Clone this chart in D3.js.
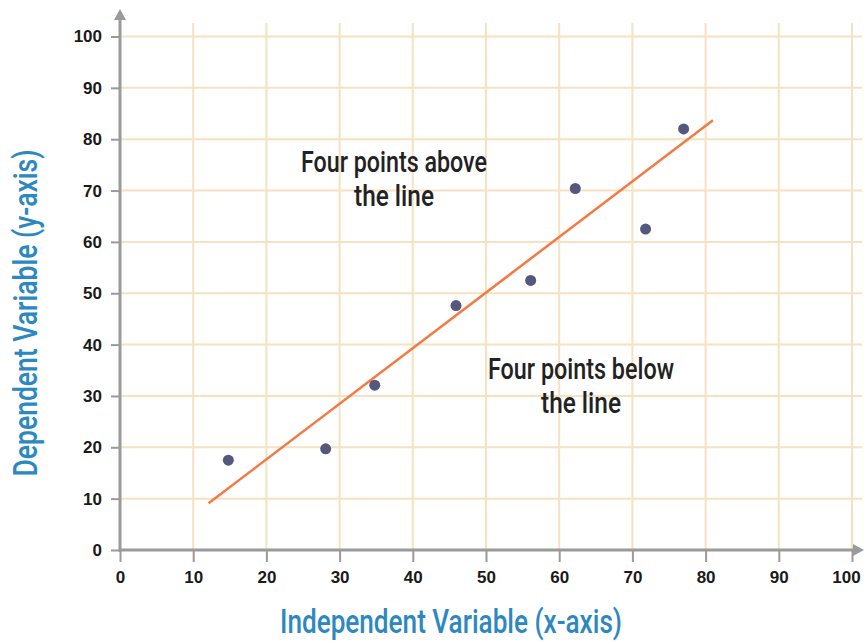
<!DOCTYPE html>
<html><head><meta charset="utf-8">
<script src="https://cdn.jsdelivr.net/npm/d3@7/dist/d3.min.js"></script>
<style>body{margin:0;background:#fff}svg{display:block}</style>
</head><body>
<svg id="c" width="867" height="644"></svg>
<script>
const xTicks = [0,10,20,30,40,50,60,70,80,90,100];
const yTicks = [0,10,20,30,40,50,60,70,80,90,100];
const pointsX = [14.8, 28.1, 34.8, 45.9, 56.1, 62.2, 71.8, 77.0];
const pointsY = [17.5, 19.7, 32.1, 47.6, 52.5, 70.4, 62.5, 82.0];
const fitX = [12.1, 81.0];
const fitY = [9.1, 83.7];
const noteAbove = ["Four points above", "the line"];
const noteBelow = ["Four points below", "the line"];
const xTitle = "Independent Variable (x-axis)";
const yTitle = "Dependent Variable (y-axis)";

const svg = d3.select("#c");
const x = d3.scaleLinear().domain([0,100]).range([120,852]);
const y = d3.scaleLinear().domain([0,100]).range([550,36.5]);
const grid = "#f6e2c0";
const axisCol = "#9a9a9a";
const condensed = "'Roboto','Liberation Sans Narrow',sans-serif";

// grid
svg.append("g").selectAll("line").data(xTicks.slice(1)).join("line")
  .attr("x1", d=>x(d)).attr("x2", d=>x(d)).attr("y1", 23).attr("y2", 550)
  .attr("stroke", grid).attr("stroke-width", 2);
svg.append("g").selectAll("line").data(yTicks.slice(1)).join("line")
  .attr("x1", 120).attr("x2", 862).attr("y1", d=>y(d)).attr("y2", d=>y(d))
  .attr("stroke", grid).attr("stroke-width", 2);

// axes
const xAxis = d3.axisBottom(x).tickValues(xTicks).tickSize(12).tickPadding(9);
const gx = svg.append("g").attr("transform","translate(0,550)").call(xAxis);
gx.select(".domain").remove();
gx.selectAll(".tick line").attr("stroke", axisCol).attr("stroke-width", 2);
gx.selectAll(".tick text").attr("font-family","'Liberation Sans', Arial, sans-serif")
  .attr("font-weight","bold").attr("font-size",17).attr("fill","#1a1a1a");
gx.selectAll(".tick text").filter(d=>d===100).attr("dx",-6);

const yAxis = d3.axisLeft(y).tickValues(yTicks).tickSize(9).tickPadding(9);
const gy = svg.append("g").attr("transform","translate(120,0)").call(yAxis);
gy.select(".domain").remove();
gy.selectAll(".tick line").attr("stroke", axisCol).attr("stroke-width", 2);
gy.selectAll(".tick text").attr("font-family","'Liberation Sans', Arial, sans-serif")
  .attr("font-weight","bold").attr("font-size",17).attr("fill","#1a1a1a");

// axis lines with arrows
svg.append("line").attr("x1",120).attr("x2",856).attr("y1",550).attr("y2",550)
  .attr("stroke",axisCol).attr("stroke-width",3);
svg.append("line").attr("x1",120).attr("x2",120).attr("y1",552).attr("y2",16)
  .attr("stroke",axisCol).attr("stroke-width",3);
svg.append("path").attr("d","M864,550 L853,544 L853,556 Z").attr("fill",axisCol);
svg.append("path").attr("d","M120,9 L114,20 L126,20 Z").attr("fill",axisCol);

// fit line
svg.append("line").attr("x1",x(fitX[0])).attr("y1",y(fitY[0]))
  .attr("x2",x(fitX[1])).attr("y2",y(fitY[1]))
  .attr("stroke","#f47a45").attr("stroke-width",2.5);

// points
svg.append("g").selectAll("circle").data(pointsX.map((v,i)=>[v,pointsY[i]])).join("circle")
  .attr("cx", d=>x(d[0])).attr("cy", d=>y(d[1])).attr("r",5.5).attr("fill","#55577e");

// notes
function note(lines, cx, y0, widths){
  lines.forEach((t,i)=>{
    svg.append("text").attr("x",cx).attr("y",y0+i*34).attr("text-anchor","middle")
      .attr("font-family",condensed).attr("font-weight",500).attr("font-size",30).attr("fill","#222")
      .attr("textLength",widths[i]).attr("lengthAdjust","spacingAndGlyphs").text(t);
  });
}
note(noteAbove, 394, 172, [186, 80]);
note(noteBelow, 581, 379, [186, 80]);

// titles
svg.append("text").attr("x",451).attr("y",633).attr("text-anchor","middle")
  .attr("font-family",condensed).attr("font-weight",500).attr("font-size",34).attr("fill","#2b88c1")
  .attr("textLength",342).attr("lengthAdjust","spacingAndGlyphs").text(xTitle);
svg.append("text").attr("transform","translate(37,313) rotate(-90)").attr("text-anchor","middle")
  .attr("font-family",condensed).attr("font-weight",500).attr("font-size",34).attr("fill","#2b88c1")
  .attr("textLength",327).attr("lengthAdjust","spacingAndGlyphs").text(yTitle);
</script>
</body></html>
